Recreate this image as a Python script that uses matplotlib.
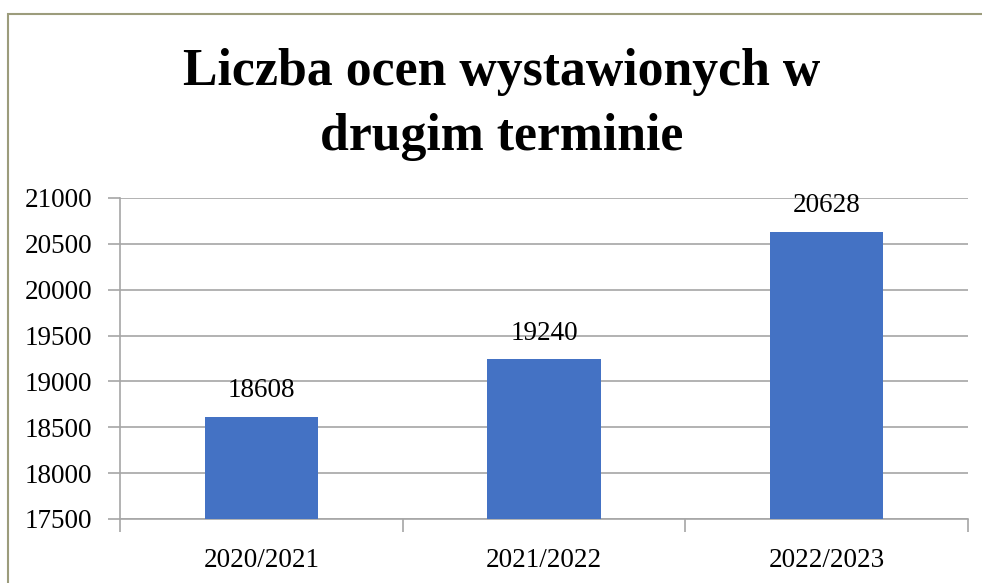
import matplotlib
matplotlib.use('Agg')
from matplotlib import pyplot as plt
from matplotlib.patches import Rectangle

years = ['2020/2021', '2021/2022', '2022/2023']
counts = [18608, 19240, 20628]
y_ticks = [17500, 18000, 18500, 19000, 19500, 20000, 20500, 21000]
title_lines = ['Liczba ocen wystawionych w', 'drugim terminie']

label_font = 'Liberation Serif'
grid_color = '#a6a6a6'

fig = plt.figure(figsize=(9.82, 5.83), dpi=100)
ax = fig.add_axes([0.1222, 0.1098, 0.8635, 0.5506])

x = list(range(len(years)))
bars = ax.bar(x, counts, width=0.4, color='#4472c4', bottom=0, zorder=3)

ax.set_xlim(-0.5, len(years) - 0.5)
ax.set_ylim(y_ticks[0], y_ticks[-1])
ax.set_yticks(y_ticks)
ax.set_yticklabels([str(v) for v in y_ticks], fontfamily=label_font, fontsize=19.5)
ax.yaxis.grid(True, color=grid_color, linewidth=1.2, zorder=0)

# category labels under the bars, tick marks between categories
ax.set_xticks(x)
ax.set_xticklabels(years, fontfamily=label_font, fontsize=19.5)
ax.tick_params(axis='x', length=0, pad=21)
ax.set_xticks([i - 0.5 for i in range(len(years) + 1)], minor=True)
ax.tick_params(axis='x', which='minor', length=9, color=grid_color, width=1.2)
ax.tick_params(axis='y', length=9, color=grid_color, width=1.2, pad=11)

for side in ['top', 'right']:
  ax.spines[side].set_visible(False)
for side in ['left', 'bottom']:
  ax.spines[side].set_color(grid_color)
  ax.spines[side].set_linewidth(1.2)

for bar, val in zip(bars, counts):
  ax.annotate(str(val), (bar.get_x() + bar.get_width() / 2, val),
              xytext=(0, 10), textcoords='offset points',
              ha='center', va='bottom', fontfamily=label_font, fontsize=19.5)

for line, base in zip(title_lines, [85, 150]):
  fig.text(502 / 982, 1 - base / 583, line, ha='center', va='baseline',
           fontfamily=label_font, fontweight='bold', fontsize=37.3)

# chart area border
fig.add_artist(Rectangle((8 / 982, -0.01), 1.0, 1 - 14 / 583 + 0.01,
                         transform=fig.transFigure, fill=False,
                         edgecolor='#9c9c7c', linewidth=1.5))

fig.savefig('out.png', dpi=100)
